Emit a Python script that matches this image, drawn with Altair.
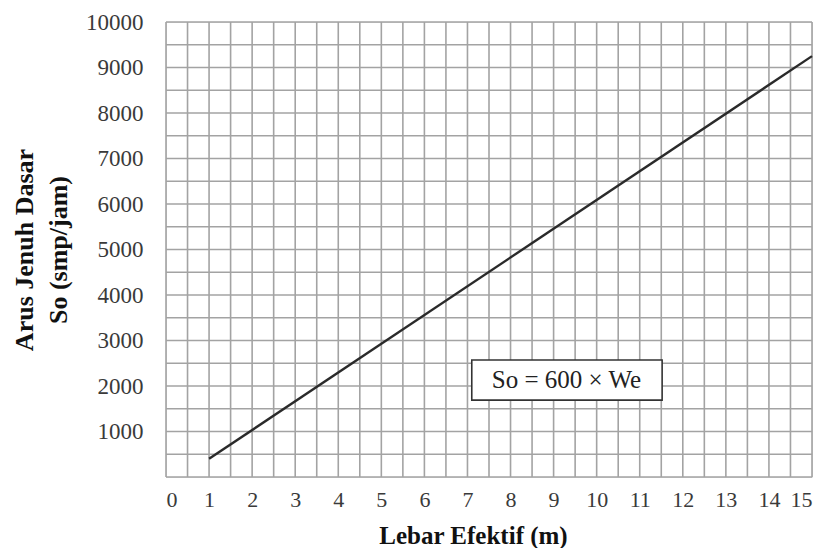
import altair as alt
import pandas as pd

# Data
we_values = [1, 15]          # Lebar Efektif (m)
so_values = [400, 9250]      # Arus Jenuh Dasar So (smp/jam)

x_grid = [i * 0.5 for i in range(0, 31)]
y_grid = [i * 500 for i in range(0, 21)]
x_labels = list(range(0, 16))
y_labels = [i * 1000 for i in range(1, 11)]

note_text = ["So = 600 × We"]
note_x = [9.3]
note_y = [2130]
box_x = [7.1]
box_x2 = [11.52]
box_y = [1690]
box_y2 = [2570]

FONT = "Liberation Serif"
GRID = "#a3a3a3"

line_df = pd.DataFrame({"We": we_values, "So": so_values})
note_df = pd.DataFrame({"t": note_text, "x": note_x, "y": note_y})
box_df = pd.DataFrame({"x": box_x, "x2": box_x2, "y": box_y, "y2": box_y2})
xg_df = pd.DataFrame({"v": x_grid})
yg_df = pd.DataFrame({"v": y_grid})

x_scale = alt.Scale(domain=[0, 15], nice=False, zero=False)
y_scale = alt.Scale(domain=[0, 10000], nice=False)

x_axis = alt.Axis(
    values=x_labels, format="d",
    grid=False, ticks=False, domain=False,
    labelFont=FONT, labelFontSize=22, labelColor="#3a3a3a", labelPadding=12,
    title="Lebar Efektif  (m)", titleFont=FONT, titleFontSize=25,
    titleFontWeight="bold", titleColor="#111", titlePadding=13,
    titleX=307,
)
y_axis = alt.Axis(
    values=y_labels, format="d",
    grid=False, ticks=False, domain=False,
    labelFont=FONT, labelFontSize=23, labelColor="#3a3a3a", labelPadding=23,
    title=["Arus Jenuh Dasar", "So (smp/jam)"], titleFont=FONT, titleFontSize=26,
    titleFontWeight="bold", titleColor="#111", titlePadding=14, titleLineHeight=34,
)

vgrid = alt.Chart(xg_df).mark_rule(color=GRID, strokeWidth=1.6).encode(
    x=alt.X("v:Q", scale=x_scale, axis=x_axis),
)
hgrid = alt.Chart(yg_df).mark_rule(color=GRID, strokeWidth=1.6).encode(
    y=alt.Y("v:Q", scale=y_scale, axis=y_axis),
)

line = alt.Chart(line_df).mark_line(color="#2a2a2a", strokeWidth=2.4).encode(
    x=alt.X("We:Q", scale=x_scale),
    y=alt.Y("So:Q", scale=y_scale),
)

box = alt.Chart(box_df).mark_rect(fill="white", stroke="#333", strokeWidth=1.6).encode(
    x=alt.X("x:Q", scale=x_scale),
    x2="x2:Q",
    y=alt.Y("y:Q", scale=y_scale),
    y2="y2:Q",
)

note = alt.Chart(note_df).mark_text(font=FONT, fontSize=25, color="#222").encode(
    x=alt.X("x:Q", scale=x_scale),
    y=alt.Y("y:Q", scale=y_scale),
    text="t:N",
)

chart = alt.layer(vgrid, hgrid, line, box, note).properties(
    width=646, height=455,
    autosize=alt.AutoSizeParams(type="none"),
    padding={"left": 158, "top": 14, "right": 4, "bottom": 71},
).configure_view(stroke=GRID, strokeWidth=1.6).configure(background="white")

chart.save("out.html", embed_options={"renderer": "svg", "actions": False})
